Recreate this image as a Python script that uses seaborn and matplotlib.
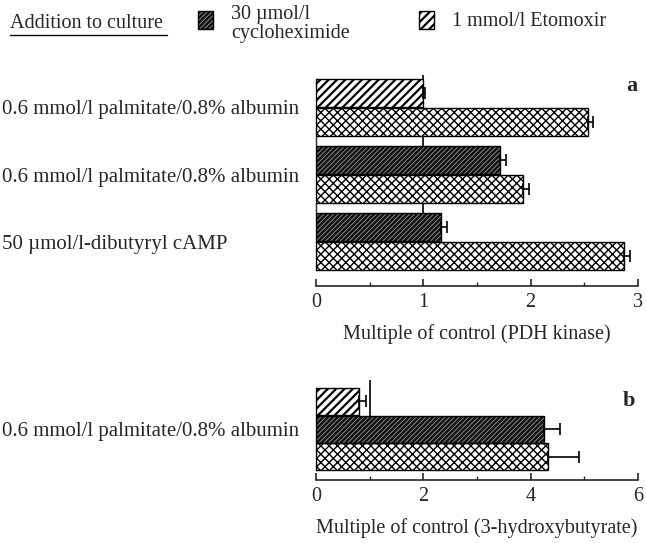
import numpy as np
import pandas as pd
import seaborn as sns
import matplotlib.pyplot as plt
from matplotlib.patches import Rectangle
from matplotlib.lines import Line2D
from matplotlib.ticker import MultipleLocator

sns.set_theme(style="ticks")
plt.rcParams['font.family'] = ['Liberation Serif', 'DejaVu Serif']

# === Data ===
treatments = ["Etomoxir", "Cycloheximide", "Alone"]

# panel a: PDH kinase, three groups of two bars (top bar, bottom bar)
a_labels = ["0.6 mmol/l palmitate/0.8% albumin",
            "0.6 mmol/l palmitate/0.8% albumin",
            "50 µmol/l-dibutyryl cAMP"]
a_group = [0, 0, 1, 1, 2, 2]
a_slot = [0, 1, 0, 1, 0, 1]
a_treat = ["Etomoxir", "Alone", "Cycloheximide", "Alone", "Cycloheximide", "Alone"]
a_value = [1.00, 2.53, 1.71, 1.93, 1.16, 2.87]
a_err = [0.02, 0.05, 0.06, 0.05, 0.06, 0.06]

# panel b: 3-hydroxybutyrate, one group of three bars
b_labels = ["0.6 mmol/l palmitate/0.8% albumin"]
b_slot = [0, 1, 2]
b_treat = ["Etomoxir", "Cycloheximide", "Alone"]
b_value = [0.80, 4.25, 4.32]
b_err = [0.13, 0.30, 0.58]

# hatch colour = edge colour, so dark bars get a light hatch and a black outline on top
styles = {
    "Etomoxir": dict(face="white", hatch="////", hcol="black", hlw=1.6),
    "Cycloheximide": dict(face="#111111", hatch="///////", hcol="#9a9a9a", hlw=0.6),
    "Alone": dict(face="white", hatch="xxxx", hcol="black", hlw=1.0),
}

FS = 14.5
group_step = 2.3
df_a = pd.DataFrame({"pos": [g * group_step + s for g, s in zip(a_group, a_slot)],
                     "value": a_value, "treat": a_treat})
df_b = pd.DataFrame({"pos": [float(s) for s in b_slot], "value": b_value, "treat": b_treat})

W, H = 646, 543
fig = plt.figure(figsize=(W / 100, H / 100), dpi=100)


def fx(px):
    return px / W


def fy(py):
    return 1 - py / H


def style_patch(p, st, ax=None, fig_tr=None):
    p.set_facecolor(st["face"])
    p.set_edgecolor(st["hcol"])
    p.set_hatch(st["hatch"])
    p.set_linewidth(0)
    if hasattr(p, "set_hatch_linewidth"):
        p.set_hatch_linewidth(st["hlw"])
    # black outline
    outline = Rectangle(p.get_xy(), p.get_width(), p.get_height(), fill=False,
                        edgecolor="black", lw=1.0, zorder=p.get_zorder() + 0.1)
    if ax is not None:
        ax.add_patch(outline)
    else:
        outline.set_transform(fig_tr)
        fig.add_artist(outline)


ax_a = fig.add_axes([fx(316), fy(286), fx(638) - fx(316), fy(75) - fy(286)])
ax_b = fig.add_axes([fx(316), fy(480), fx(638) - fx(316), fy(380) - fy(480)])


def draw_panel(ax, df, errs, xmax, major, minor, ylims, centers, labels, xlabel):
    sns.barplot(data=df, x="value", y="pos", hue="treat", hue_order=treatments,
                orient="h", native_scale=True, dodge=False, width=0.97,
                palette=["white"] * 3, errorbar=None, legend=False, ax=ax, zorder=3)
    present = [t for t in treatments if t in set(df["treat"])]
    for cont, name in zip(list(ax.containers), present):
        for bar in cont:
            style_patch(bar, styles[name], ax=ax)
    bars = sorted([b for c in ax.containers for b in c], key=lambda b: b.get_y())
    ys = [b.get_y() + b.get_height() / 2 for b in bars]
    vals = [b.get_width() for b in bars]
    order = np.argsort(df["pos"].values)
    e = np.array(errs)[order]
    ax.errorbar(vals, ys, xerr=[np.zeros(len(e)), e], fmt="none", ecolor="black",
                elinewidth=1.2, capsize=4.5, capthick=1.2, zorder=4)
    top = bars[0].get_y()
    bottom = bars[-1].get_y() + bars[-1].get_height()
    ax.vlines(1, ylims[1], bottom, color="black", lw=1.2, zorder=2)
    ax.set_xlim(0, xmax)
    ax.set_ylim(*ylims)
    ax.xaxis.set_major_locator(MultipleLocator(major))
    ax.xaxis.set_minor_locator(MultipleLocator(minor))
    ax.tick_params(axis="x", which="major", direction="in", length=5, width=1.2,
                   labelsize=FS, pad=5)
    ax.tick_params(axis="x", which="minor", direction="in", length=3, width=1.0)
    ax.set_yticks(centers)
    ax.set_yticklabels(labels, fontsize=15)
    ax.tick_params(axis="y", length=0, pad=226)
    for t in ax.get_yticklabels():
        t.set_horizontalalignment("left")
    ax.spines["top"].set_visible(False)
    ax.spines["right"].set_visible(False)
    ax.spines["left"].set_bounds(top, bottom)
    ax.spines["left"].set_linewidth(1.0)
    ax.spines["bottom"].set_linewidth(1.2)
    ax.set_xlabel(xlabel, fontsize=FS, labelpad=9)
    ax.set_ylabel("")
    ax.patch.set_alpha(0)


a_centers = [g * group_step + 0.5 for g in range(3)]
draw_panel(ax_a, df_a, a_err, 3, 1, 0.5, (6.62, -0.61), a_centers, a_labels,
           "Multiple of control (PDH kinase)")
draw_panel(ax_b, df_b, b_err, 6, 2, 1, (2.83, -0.76), [1.0], b_labels,
           "Multiple of control (3-hydroxybutyrate)")

fig.text(fx(632), fy(86), "a", fontsize=16, fontweight="bold", ha="center", va="center")
fig.text(fx(629), fy(401), "b", fontsize=16, fontweight="bold", ha="center", va="center")

# legend row
fig.text(fx(10), fy(23), "Addition to culture", fontsize=FS, ha="left", va="center")
fig.add_artist(Line2D([fx(10), fx(167)], [fy(35), fy(35)], color="black", lw=1.0))
for (x0, name, txt, ty) in [(198, "Cycloheximide", "30 µmol/l\ncycloheximide", 24),
                            (419, "Etomoxir", "1 mmol/l Etomoxir", 21)]:
    r = Rectangle((fx(x0), fy(29)), fx(15), fy(11) - fy(29), transform=fig.transFigure)
    fig.add_artist(r)
    style_patch(r, styles[name], fig_tr=fig.transFigure)
    fig.text(fx(x0 + 33), fy(ty), txt, fontsize=FS, ha="left", va="center",
             linespacing=1.0)

fig.savefig("out.png", dpi=100)
